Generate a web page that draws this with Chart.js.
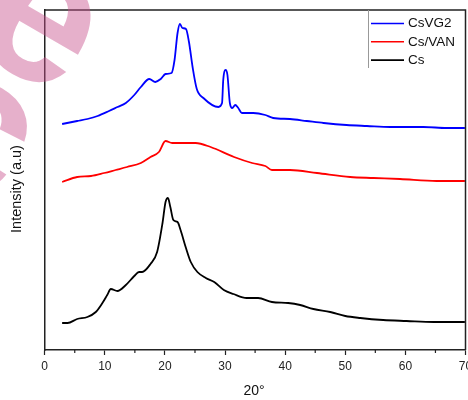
<!DOCTYPE html>
<html>
<head>
<meta charset="utf-8">
<script src="https://cdn.jsdelivr.net/npm/chart.js@4.4.0/dist/chart.umd.min.js"></script>
<style>
  html, body { margin: 0; padding: 0; background: #fff; }
  #xrd { display: block; }
</style>
</head>
<body>
<canvas id="xrd" width="468" height="400"></canvas>
<script>
// ── XRD patterns: 2θ (deg) vs intensity (a.u., curves offset vertically) ──
const csvg2Theta = [2.9, 5.4, 7.1, 8.8, 10.7, 12.1, 13.5, 14.9, 16.0, 17.4, 18.4, 19.3, 20.1, 21.1, 21.6,
                    22.1, 22.5, 22.9, 23.5, 24.0, 24.6, 25.3, 26.4, 28.9, 29.5, 29.7, 30.1, 30.4, 30.8,
                    31.2, 31.7, 32.2, 32.8, 34.7, 36.7, 38.0, 40.8, 43.6, 46.4, 50.2, 53.6, 57.5, 63.0,
                    66.9, 69.9];
const csvg2Int   = [226, 229, 231, 234, 239, 243, 247, 255, 263, 271, 268, 271, 276, 277, 290,
                    317, 326, 322, 321, 308, 283, 261, 252, 243, 247, 270, 280, 275, 247,
                    242, 245, 242, 237, 237, 235, 232, 231, 229, 227, 225, 224, 223, 223,
                    222, 222];

const csvanTheta = [2.9, 5.4, 7.7, 9.9, 11.8, 13.7, 16.0, 17.6, 19.0, 20.1, 21.2, 23.2, 25.1, 27.6,
                    31.5, 34.5, 36.7, 37.8, 40.8, 45.3, 50.8, 54.7, 59.1, 65.2, 69.9];
const csvanInt   = [168, 173, 174, 177, 180, 183, 187, 193, 198, 209, 207, 207, 207, 203,
                    193, 187, 184, 180, 180, 177, 173, 172, 171, 169, 169];

const csTheta = [2.9, 3.8, 5.4, 7.1, 8.5, 9.6, 10.4, 11.0, 12.1, 13.5, 14.9, 15.7, 16.2, 17.6, 18.7,
                 19.6, 20.1, 20.5, 20.9, 21.4, 22.1, 22.6, 23.5, 24.3, 25.4, 26.8, 28.2, 29.8, 31.4,
                 33.6, 35.5, 37.8, 40.5, 42.5, 44.7, 47.5, 50.0, 52.5, 56.3, 60.2, 64.7, 69.9];
const csInt   = [27, 27, 31, 33, 38, 47, 55, 61, 59, 65, 74, 78, 78, 86, 98,
                 127, 148, 152, 143, 130, 128, 120, 102, 88, 78, 72, 68, 60, 56,
                 52, 52, 48, 47, 45, 41, 38, 34, 32, 30, 29, 28, 28];

const seriesNames  = ['CsVG2', 'Cs/VAN', 'Cs'];
const seriesColors = ['#0000ff', '#ff0000', '#000000'];
const xMajorTicks  = [0, 10, 20, 30, 40, 50, 60, 70];
const xMinorTicks  = [5, 15, 25, 35, 45, 55, 65];

const FONT = "'Liberation Sans', Arial, sans-serif";
const INK  = '#222';

function toPoints(xs, ys) {
  return xs.map((x, i) => ({ x, y: ys[i] }));
}

// ── extras drawn over the chart ───────────────────────────
const frame = {
  id: 'frame',
  afterDraw(chart) {
    const { ctx, chartArea: a } = chart;
    ctx.save();
    ctx.strokeStyle = INK;
    ctx.lineWidth = 1.5;
    ctx.beginPath();
    ctx.moveTo(a.left, a.top);
    ctx.lineTo(a.right, a.top);
    ctx.lineTo(a.right, a.bottom);
    ctx.stroke();
    // minor ticks on the 2θ axis
    const xs = chart.scales.x;
    ctx.lineWidth = 1.2;
    ctx.beginPath();
    xMinorTicks.forEach(v => {
      const px = xs.getPixelForValue(v);
      ctx.moveTo(px, a.bottom);
      ctx.lineTo(px, a.bottom + 3);
    });
    ctx.stroke();
    ctx.restore();
  }
};

const axisTitles = {
  id: 'axisTitles',
  afterDraw(chart) {
    const { ctx } = chart;
    ctx.save();
    ctx.fillStyle = '#111';
    ctx.textAlign = 'center';
    ctx.textBaseline = 'middle';
    ctx.font = '14px ' + FONT;
    ctx.fillText('20°', 254, 391);
    ctx.font = '14.5px ' + FONT;
    ctx.translate(17, 189);
    ctx.rotate(-Math.PI / 2);
    ctx.fillText('Intensity (a.u)', 0, 0);
    ctx.restore();
  }
};

const boxLegend = {
  id: 'boxLegend',
  afterDraw(chart) {
    const { ctx, chartArea: a } = chart;
    const left = 368;
    ctx.save();
    ctx.strokeStyle = '#999';
    ctx.lineWidth = 1;
    ctx.beginPath();
    ctx.moveTo(left + 0.5, a.top);
    ctx.lineTo(left + 0.5, 68);
    ctx.stroke();
    ctx.font = '13.5px ' + FONT;
    ctx.textBaseline = 'middle';
    chart.data.datasets.forEach((ds, i) => {
      const y = 23.5 + i * 18.3;
      ctx.strokeStyle = ds.borderColor;
      ctx.lineWidth = 1.6;
      ctx.beginPath();
      ctx.moveTo(371, y);
      ctx.lineTo(404, y);
      ctx.stroke();
      ctx.fillStyle = '#111';
      ctx.fillText(ds.label, 408, y);
    });
    ctx.restore();
  }
};

// pale pink lettering in the top-left corner
const watermark = {
  id: 'watermark',
  afterDraw(chart) {
    const { ctx } = chart;
    ctx.save();
    ctx.fillStyle = 'rgba(200, 80, 140, 0.45)';
    ctx.font = 'bold 200px ' + FONT;
    ctx.textAlign = 'center';
    ctx.textBaseline = 'alphabetic';
    ctx.rotate(Math.PI / 6);
    ctx.save();
    ctx.translate(46, 4);
    ctx.fillText('e', 0, 52);
    ctx.restore();
    ctx.translate(43, 131);
    ctx.fillText('c', 0, 52);
    ctx.restore();
  }
};

new Chart(document.getElementById('xrd'), {
  type: 'line',
  data: {
    datasets: [
      { label: seriesNames[0], data: toPoints(csvg2Theta, csvg2Int) },
      { label: seriesNames[1], data: toPoints(csvanTheta, csvanInt) },
      { label: seriesNames[2], data: toPoints(csTheta, csInt) },
    ].map((ds, i) => Object.assign(ds, {
      borderColor: seriesColors[i],
      borderWidth: 1.8,
      pointRadius: 0,
      fill: false,
      cubicInterpolationMode: 'monotone',
    }))
  },
  options: {
    responsive: false,
    animation: false,
    layout: { padding: { top: 10, right: 2.5, left: 0, bottom: 0 } },
    plugins: { legend: { display: false }, tooltip: { enabled: false } },
    scales: {
      x: {
        type: 'linear',
        min: 0, max: 70,
        afterBuildTicks: s => { s.ticks = xMajorTicks.map(v => ({ value: v })); },
        afterFit: s => { s.height = 50; s.paddingLeft = 0; s.paddingRight = 0; },
        ticks: { color: INK, font: { family: FONT, size: 12 }, padding: 4, maxRotation: 0, autoSkip: false },
        grid: { drawOnChartArea: false, drawTicks: true, tickLength: 5, tickColor: INK, tickWidth: 1.2 },
        border: { display: true, color: INK, width: 1.5 },
      },
      y: {
        min: 0, max: 340,
        afterFit: s => { s.width = 44.7; },
        ticks: { display: false },
        grid: { display: false },
        border: { display: true, color: INK, width: 1.5 },
      }
    }
  },
  plugins: [frame, axisTitles, boxLegend, watermark]
});
</script>
</body>
</html>
